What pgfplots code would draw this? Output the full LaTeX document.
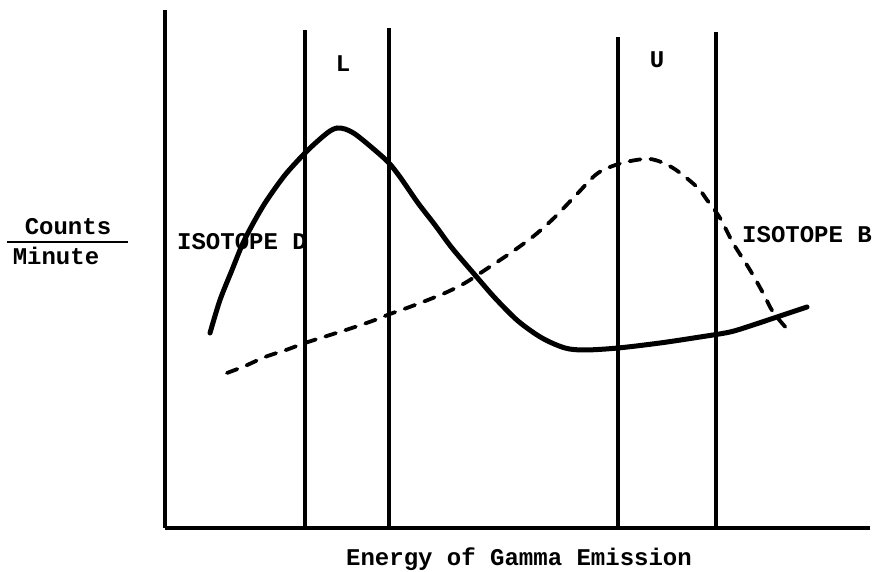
\documentclass[border=0pt]{standalone}
\usepackage{fontspec}
\setmainfont{Liberation Mono}
\usepackage{pgfplots}
\pgfplotsset{compat=1.18}
\tikzset{lbl/.style={font=\fontsize{24}{28}\selectfont\bfseries, inner sep=0pt}}
\begin{document}
\begin{tikzpicture}
\begin{axis}[
  scale only axis,
  width=705pt, height=518pt,
  xmin=165, xmax=870, ymin=43, ymax=561,
  axis x line=bottom, axis y line=left,
  axis line style={line width=3.8pt,-},
  xtick=\empty, ytick=\empty,
  clip=false,
]
% invisible frame fixing the page to the reference proportions
\path (axis cs:0,0) rectangle (axis cs:875,571);
% window boundaries
\addplot[black, line width=3.4pt] coordinates {(305,43) (305,541)};
\addplot[black, line width=3.4pt] coordinates {(389,43) (389,543)};
\addplot[black, line width=3.4pt] coordinates {(618,43) (618,534)};
\addplot[black, line width=3.4pt] coordinates {(716,43) (716,539)};
% Isotope D (solid)
\addplot[black, line width=5pt, smooth, tension=0.5, line cap=round] coordinates {
(210,238) (220,271) (232,301) (243,328) (255,351) (267,371) (285,396) (305,418)
(320,432) (330,440) (337,443) (345,442) (355,437) (370,425) (388,409) (400,394)
(418,368) (435,346) (452,323) (475,296) (495,273) (518,250) (542,233) (565,223)
(585,221) (618,223) (660,228) (700,234) (730,239) (753,246) (780,255) (807,264)};
% Isotope B (dashed)
\addplot[black, line width=3.8pt, smooth, tension=0.5, dash pattern=on 11pt off 10pt, line cap=round] coordinates {
(227,198) (245,205) (265,214) (286,221) (305,228) (330,236) (352,243) (375,251)
(390,257) (415,266) (445,278) (465,288) (485,301) (512,319) (535,336) (555,354)
(578,378) (598,398) (622,408) (650,412) (673,403) (697,384) (707,371) (720,353)
(733,328) (750,301) (763,278) (773,259) (788,241)};
% labels
\node[lbl, anchor=base] at (axis cs:343,499) {L};
\node[lbl, anchor=base] at (axis cs:657,503) {U};
\node[lbl, anchor=base west] at (axis cs:177,321) {ISOTOPE D};
\node[lbl, anchor=base west] at (axis cs:742,328) {ISOTOPE B};
\node[lbl, anchor=base] at (axis cs:519,5) {Energy of Gamma Emission};
\node[lbl, anchor=base] at (axis cs:68,336) {Counts};
\node[lbl, anchor=base] at (axis cs:56,306) {Minute};
\draw[line width=2.5pt] (axis cs:7,329) -- (axis cs:128,329);
\end{axis}
\end{tikzpicture}
\end{document}
